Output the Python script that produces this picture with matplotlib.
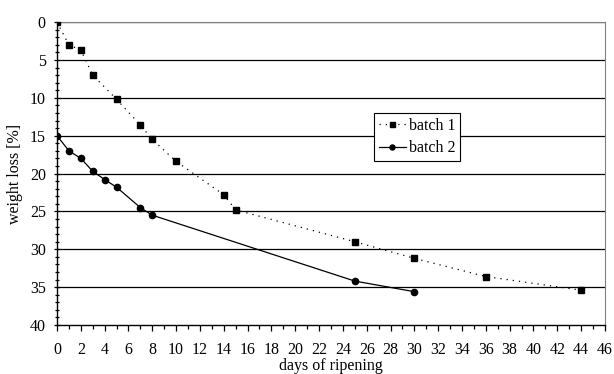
import numpy as np
import matplotlib.pyplot as plt
from matplotlib.ticker import MultipleLocator

# batch 1 (dotted, squares)
days_b1 = [0, 1, 2, 3, 5, 7, 8, 10, 14, 15, 25, 30, 36, 44]
loss_b1 = [0, 3.0, 3.7, 7.0, 10.2, 13.6, 15.5, 18.4, 22.8, 24.8, 29.0, 31.2, 33.6, 35.4]
# batch 2 (solid, circles)
days_b2 = [0, 1, 2, 3, 4, 5, 7, 8, 25, 30]
loss_b2 = [15.0, 17.0, 18.0, 19.7, 20.8, 21.8, 24.5, 25.5, 34.2, 35.6]

plt.rcParams['font.family'] = ['Liberation Serif', 'DejaVu Serif']
plt.rcParams['font.size'] = 10

fig = plt.figure(figsize=(6.14, 3.74), dpi=100)
ax = fig.add_axes([0.0928, 0.131, 0.8925, 0.81])

for y in range(0, 40, 5):
    ax.axhline(y, color='black', lw=0.9, zorder=1)

ax.plot(days_b1, loss_b1, color='black', ls=(0, (1, 4)), lw=0.9,
        marker='s', ms=4.5, label='batch 1', zorder=3)
ax.plot(days_b2, loss_b2, color='black', ls='-', lw=0.9,
        marker='o', ms=4.5, label='batch 2', zorder=3)

ax.set_xlim(0, 46)
ax.set_ylim(40, 0)
ax.xaxis.set_major_locator(MultipleLocator(2))
ax.xaxis.set_minor_locator(MultipleLocator(1))
ax.yaxis.set_major_locator(MultipleLocator(5))
ax.yaxis.set_minor_locator(MultipleLocator(1))
ax.tick_params(axis='both', which='major', length=4, width=0.9, labelsize=11.5)
ax.tick_params(axis='both', which='minor', length=3, width=0.9)
ax.tick_params(axis='y', which='both', direction='inout', pad=6)
ax.tick_params(axis='x', which='both', direction='out', pad=8)

for s in ['top', 'right']:
    ax.spines[s].set_color('gray')
    ax.spines[s].set_linewidth(0.8)
for s in ['left', 'bottom']:
    ax.spines[s].set_color('black')
    ax.spines[s].set_linewidth(1.0)

ax.set_xlabel('days of ripening', fontsize=11.5, labelpad=0)
ax.set_ylabel('weight loss [%]', fontsize=11.5, labelpad=5)

leg = ax.legend(loc='center', bbox_to_anchor=(0.657, 0.62), fancybox=False,
                framealpha=1, edgecolor='black', fontsize=11.5, handlelength=1.7,
                borderpad=0.3, labelspacing=0.4, handletextpad=0.2,
                borderaxespad=0, markerscale=0.8)
leg.get_frame().set_linewidth(0.8)

plt.savefig('out.png', dpi=100)
plt.close()
